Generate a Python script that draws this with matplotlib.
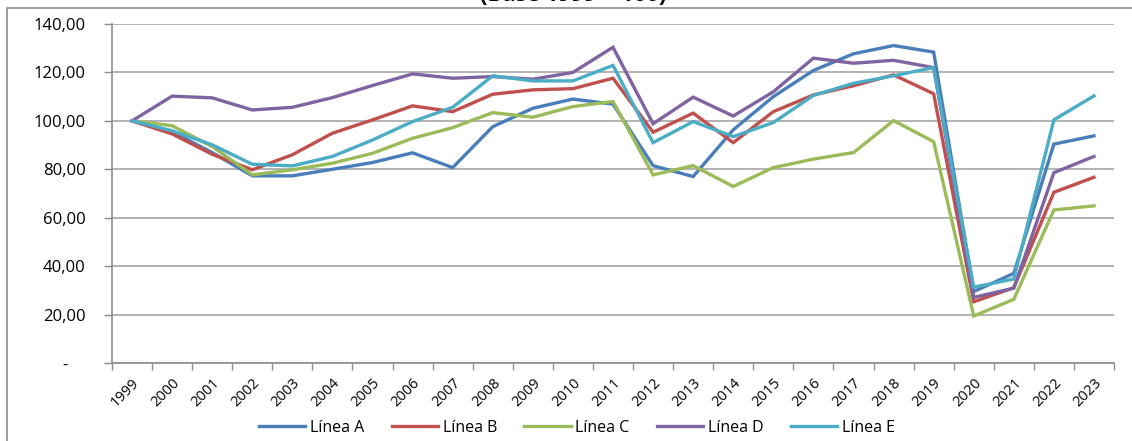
import matplotlib
matplotlib.use("Agg")
import matplotlib.pyplot as plt
from matplotlib.patches import Rectangle
from matplotlib.ticker import FuncFormatter, MultipleLocator
import numpy as np

years = [str(y) for y in range(1999, 2024)]

linea_a = [100, 95.5, 86.9, 77.3, 77.3, 80.0, 82.8, 86.8, 80.7, 97.6, 105.2, 109.0, 106.9,
           81.5, 77.0, 96.3, 110.0, 120.8, 127.7, 131.1, 128.4, 29.5, 37.0, 90.4, 93.8]
linea_b = [100, 94.6, 86.2, 79.8, 86.0, 94.9, 100.4, 106.2, 103.8, 111.0, 112.8, 113.3, 117.6,
           95.3, 103.2, 91.0, 103.8, 110.7, 114.5, 119.0, 111.2, 25.3, 31.1, 70.5, 76.7]
linea_c = [100, 98.0, 89.4, 77.7, 79.8, 82.5, 86.6, 92.8, 97.2, 103.4, 101.5, 105.9, 108.0,
           77.7, 81.5, 72.9, 80.7, 84.2, 86.9, 100.1, 91.4, 19.4, 26.3, 63.2, 64.9]
linea_d = [100, 110.2, 109.5, 104.5, 105.6, 109.6, 114.6, 119.4, 117.6, 118.3, 117.2, 120.0, 130.4,
           98.8, 109.8, 102.0, 112.0, 125.9, 123.8, 125.0, 122.0, 27.1, 30.9, 78.6, 85.3]
linea_e = [100, 95.9, 90.1, 82.1, 81.4, 85.3, 92.1, 99.7, 105.6, 118.6, 116.5, 116.5, 122.9,
           91.0, 99.7, 93.5, 99.3, 110.5, 115.5, 118.6, 122.0, 31.3, 34.7, 100.4, 110.3]

series = [("Línea A", linea_a, "#4A7EBB"),
          ("Línea B", linea_b, "#C0504D"),
          ("Línea C", linea_c, "#9BBB59"),
          ("Línea D", linea_d, "#8064A2"),
          ("Línea E", linea_e, "#4BACC6")]

plt.rcParams['font.family'] = ['Open Sans', 'DejaVu Sans']

W, H = 1132, 441
fig = plt.figure(figsize=(W / 100, H / 100), dpi=100)
ax = fig.add_axes([112 / W, 1 - 363 / H, (1114 - 112) / W, (363 - 24) / H])

x = np.arange(len(years))
for name, vals, col in series:
    ax.plot(x, vals, color=col, lw=2.4, label=name, solid_joinstyle='miter')

ax.set_xlim(-0.5, len(years) - 0.5)
ax.set_ylim(0, 140)
ax.yaxis.set_major_locator(MultipleLocator(20))


def fmt(v, pos):
    if abs(v) < 1e-9:
        return "-    "
    return f"{v:.2f}".replace(".", ",")


ax.yaxis.set_major_formatter(FuncFormatter(fmt))
ax.grid(axis='y', color='#A6A6A6', lw=1.2)
ax.set_axisbelow(True)

ax.set_xticks(x)
ax.set_xticklabels(years, rotation=45, ha='right', rotation_mode='anchor', fontsize=10.5)
ax.set_xticks(np.arange(-0.5, len(years)), minor=True)
ax.tick_params(axis='x', which='major', length=0, pad=9)
ax.tick_params(axis='x', which='minor', length=5, color='#8C8C8C', width=1)
ax.tick_params(axis='y', length=6, color='#8C8C8C', width=1, labelsize=12, pad=13)

for s in ['top', 'right']:
    ax.spines[s].set_visible(False)
for s in ['left', 'bottom']:
    ax.spines[s].set_color('#8C8C8C')
    ax.spines[s].set_linewidth(1.2)

leg = fig.legend(loc='center', bbox_to_anchor=(577 / W, 1 - 428 / H), ncol=5, frameon=False,
                 fontsize=11.5, handlelength=2.9, handletextpad=0.3, columnspacing=1.7)

# title mostly above the picture, as in the reference
fig.text(573 / W, 1 - 6 / H, "(Base 1999 = 100)", ha='center', va='bottom',
         fontsize=16, fontweight='bold')

fig.patches.append(Rectangle((7 / W, -0.1), 1.2, 1 - 8 / H + 0.1, transform=fig.transFigure,
                             fill=False, edgecolor='#8C8C8C', lw=1.2))

fig.savefig("out.png", dpi=100)
